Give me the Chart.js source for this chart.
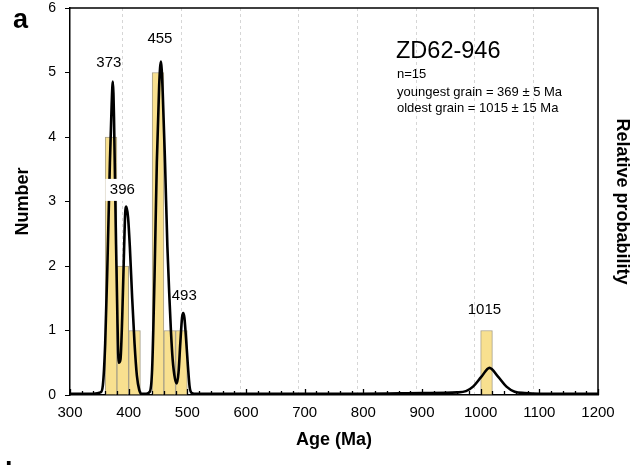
<!DOCTYPE html>
<html>
<head>
<meta charset="utf-8">
<script src="https://cdn.jsdelivr.net/npm/chart.js@4.4.1/dist/chart.umd.min.js"></script>
<style>
  html, body { margin: 0; padding: 0; background: #fff; }
  #wrap { width: 643px; height: 465px; position: relative; }
</style>
</head>
<body>
<div id="wrap"><canvas id="c" width="643" height="465"></canvas></div>
<script>
// ---- data ----
const binCenters = [370, 390, 410, 450, 470, 490, 1010];   // Ma (20 Ma bins)
const binCounts  = [4, 2, 1, 5, 1, 1, 1];

const curveAges = [300, 340, 352, 356, 360, 364, 368, 371, 373, 375,
                   378, 381, 383, 386, 389, 392, 394, 396, 399, 402,
                   406, 410, 414, 418, 422, 430, 436, 440, 444, 448,
                   452, 455, 458, 462, 466, 470, 472, 475, 479, 482,
                   485, 488, 491, 493, 495, 498, 501, 504, 508, 515,
                   600, 700, 800, 900, 960, 975, 987, 1001, 1015, 1030,
                   1044, 1058, 1075, 1100, 1200];
const curveValues = [0.02, 0.02, 0.04, 0.15, 0.8, 2.1, 3.6, 4.5, 4.86, 4.3,
                     2.6, 1.1, 0.5, 0.55, 1.2, 2.2, 2.8, 2.92, 2.75, 2.3,
                     1.5, 0.8, 0.3, 0.08, 0.02, 0.02, 0.05, 0.4, 1.8, 3.6,
                     4.8, 5.17, 4.7, 3.6, 2.3, 1.4, 1.0, 0.55, 0.25, 0.18,
                     0.35, 0.8, 1.2, 1.27, 1.2, 0.85, 0.45, 0.12, 0.03, 0.02,
                     0.02, 0.02, 0.02, 0.03, 0.04, 0.06, 0.13, 0.28, 0.42, 0.28,
                     0.13, 0.05, 0.03, 0.02, 0.02];

const peakLabels = ['373', '396', '455', '493', '1015'];
const peakAges   = [373, 396, 455, 493, 1015];

const sampleName = 'ZD62-946';
const infoLines = ['n=15', 'youngest grain = 369 \u00b1 5 Ma', 'oldest grain = 1015 \u00b1 15 Ma'];

const xMin = 300, xMax = 1200, xMinorStep = 20, xMajorStep = 100;
const yMin = 0, yMax = 6;

// ---- chart ----
const FONT = "'Liberation Sans', Arial, Helvetica, sans-serif";
Chart.defaults.font.family = FONT;
Chart.defaults.color = '#000';

const barData = binCenters.map((x, i) => ({ x: x, y: binCounts[i] }));
const curveData = curveAges.map((x, i) => ({ x: x, y: curveValues[i] }));

const decor = {
  id: 'decor',
  afterDatasetsDraw(chart) {
    const ctx = chart.ctx;
    const xs = chart.scales.x, ys = chart.scales.y;
    const a = chart.chartArea;
    ctx.save();
    // white box behind the 396 label
    const lx396 = xs.getPixelForValue(peakAges[1]) - 4;
    const ly396 = ys.getPixelForValue(3.18);
    ctx.fillStyle = '#fff';
    ctx.fillRect(lx396 - 17, ly396 - 11, 34, 22);

    // peak labels
    ctx.fillStyle = '#000';
    ctx.font = '15px ' + FONT;
    ctx.textAlign = 'center';
    ctx.textBaseline = 'middle';
    const labelY = [5.15, 3.18, 5.52, 1.53, 1.32];
    const labelDx = [-4, -4, -1, 1, -5];
    peakLabels.forEach((t, i) => {
      ctx.fillText(t, xs.getPixelForValue(peakAges[i]) + labelDx[i], ys.getPixelForValue(labelY[i]));
    });

    // inward x ticks
    ctx.strokeStyle = '#000';
    ctx.lineWidth = 1.3;
    ctx.beginPath();
    for (let v = xMin; v <= xMax; v += xMinorStep) {
      const px = Math.round(xs.getPixelForValue(v)) + 0.5;
      const len = (v % xMajorStep === 0) ? 6 : 4;
      ctx.moveTo(px, a.bottom);
      ctx.lineTo(px, a.bottom - len);
    }
    ctx.stroke();

    // frame top and right
    ctx.lineWidth = 1.5;
    ctx.beginPath();
    ctx.moveTo(a.left, a.top);
    ctx.lineTo(a.right, a.top);
    ctx.lineTo(a.right, a.bottom);
    ctx.stroke();

    // sample annotation
    ctx.textAlign = 'left';
    ctx.textBaseline = 'alphabetic';
    ctx.font = '23.5px ' + FONT;
    ctx.fillText(sampleName, 396, 58);
    ctx.font = '13px ' + FONT;
    ctx.fillText(infoLines[0], 397, 78);
    ctx.fillText(infoLines[1], 397, 96);
    ctx.fillText(infoLines[2], 397, 112);

    // panel letters
    ctx.font = 'bold 27px ' + FONT;
    ctx.fillText('a', 13, 28);
    ctx.fillText('b', 5, 481);
    ctx.restore();
  }
};

new Chart(document.getElementById('c'), {
  type: 'bar',
  data: {
    datasets: [
      {
        type: 'line',
        data: curveData,
        yAxisID: 'y2',
        borderColor: '#000',
        borderWidth: 2.6,
        pointRadius: 0,
        cubicInterpolationMode: 'monotone',
        fill: false,
        order: 0
      },
      {
        type: 'bar',
        data: barData,
        yAxisID: 'y',
        backgroundColor: '#f8e08f',
        borderColor: '#a8a088',
        borderWidth: 1,
        barPercentage: 1,
        categoryPercentage: 1,
        order: 1
      }
    ]
  },
  options: {
    responsive: false,
    animation: false,
    events: [],
    layout: { padding: { top: 8, left: 0, right: 0, bottom: 0 } },
    plugins: { legend: { display: false }, tooltip: { enabled: false } },
    scales: {
      x: {
        type: 'linear',
        min: xMin, max: xMax,
        offset: false,
        afterFit(s) { s.height = 70; s.paddingLeft = 0; s.paddingRight = 0; },
        ticks: {
          stepSize: xMinorStep,
          autoSkip: false,
          maxRotation: 0,
          padding: 9,
          font: { size: 15 },
          color: '#000',
          callback: (v) => (v % xMajorStep === 0 ? String(v) : '')
        },
        grid: {
          drawTicks: false,
          lineWidth: 1,
          color: (c) => {
            const v = c.tick && c.tick.value;
            return (v % xMajorStep === 0 && v !== xMin && v !== xMax) ? '#d6d6d6' : 'rgba(0,0,0,0)';
          }
        },
        border: { display: true, color: '#000', width: 1.5, dash: [3, 3] },
        title: {
          display: true,
          text: 'Age (Ma)',
          font: { size: 18, weight: 'bold' },
          color: '#000',
          padding: { top: 0, bottom: 14 }
        }
      },
      y: {
        position: 'left',
        min: yMin, max: yMax,
        afterFit(s) { s.width = 70; s.paddingTop = 0; s.paddingBottom = 0; },
        ticks: { stepSize: 1, padding: 9, font: { size: 14 }, color: '#000' },
        grid: { drawOnChartArea: false, drawTicks: true, tickLength: 5, tickColor: '#000', tickWidth: 1 },
        border: { display: true, color: '#000', width: 1.5 },
        title: {
          display: true,
          text: 'Number',
          font: { size: 18, weight: 'bold' },
          color: '#000',
          padding: { top: 12, bottom: 0 }
        }
      },
      y2: {
        position: 'right',
        min: yMin, max: yMax,
        afterFit(s) { s.width = 45; s.paddingTop = 0; s.paddingBottom = 0; },
        ticks: { display: false },
        grid: { display: false, drawTicks: false },
        border: { display: false },
        title: {
          display: true,
          text: 'Relative probability',
          font: { size: 18, weight: 'bold' },
          color: '#000',
          padding: { top: 10, bottom: 0 }
        }
      }
    }
  },
  plugins: [decor]
});
</script>
</body>
</html>
